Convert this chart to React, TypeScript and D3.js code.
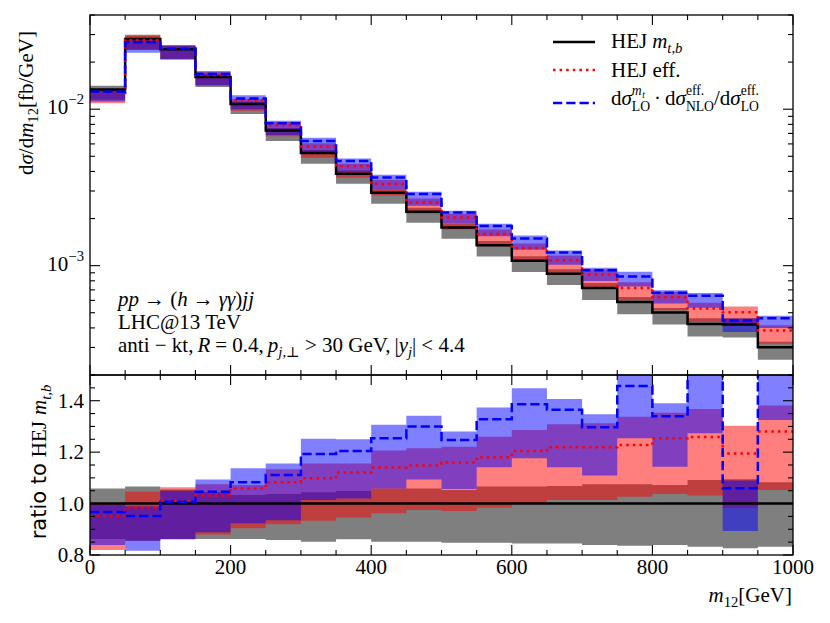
import React, { useEffect, useRef } from "react";
import * as d3 from "d3";

// bin edges in m12 [GeV]
const binEdges = [0, 50, 100, 150, 200, 250, 300, 350, 400, 450, 500, 550, 600, 650, 700, 750, 800, 850, 900, 950, 1000];

// HEJ m_{t,b} central value [fb/GeV]
const hejMtb = [0.01335, 0.0281, 0.0242, 0.01606, 0.01081, 0.00731, 0.00525, 0.00387, 0.00292, 0.00221,
  0.00175, 0.00135, 0.001076, 0.000889, 0.00072, 0.000586, 0.000501, 0.000423, 0.000421, 0.000301];

// ratios to HEJ m_{t,b}
const effRatio = [0.952, 0.985, 1.011, 1.031, 1.059, 1.083, 1.098, 1.121, 1.14, 1.148,
  1.16, 1.18, 1.204, 1.219, 1.219, 1.228, 1.254, 1.259, 1.195, 1.28];
const loRatio = [0.967, 0.952, 1.007, 1.046, 1.083, 1.111, 1.193, 1.204, 1.254, 1.3,
  1.247, 1.328, 1.386, 1.365, 1.297, 1.457, 1.34, 1.52, 1.06, 1.53];

// scale-variation bands (ratio to HEJ m_{t,b} central)
const mtbLo = [0.862, 0.855, 0.862, 0.862, 0.862, 0.858, 0.852, 0.861, 0.852, 0.852,
  0.848, 0.848, 0.845, 0.845, 0.839, 0.836, 0.839, 0.832, 0.826, 0.832];
const mtbHi = [1.059, 1.066, 1.055, 1.045, 1.033, 1.037, 1.044, 1.049, 1.059, 1.059,
  1.053, 1.066, 1.066, 1.068, 1.075, 1.075, 1.072, 1.092, 1.095, 1.083];
const effLo = [0.819, 0.855, 0.86, 0.88, 0.904, 0.92, 0.933, 0.946, 0.962, 0.975,
  0.971, 0.984, 0.997, 1.014, 1.014, 1.027, 1.037, 1.031, 0.984, 1.053];
const effHi = [0.998, 1.046, 1.063, 1.075, 1.072, 1.133, 1.156, 1.156, 1.206, 1.215,
  1.221, 1.26, 1.286, 1.308, 1.312, 1.338, 1.353, 1.368, 1.303, 1.381];
const loLo = [0.839, 0.817, 0.862, 0.888, 0.923, 0.935, 1.014, 1.02, 1.059, 1.094,
  1.057, 1.141, 1.176, 1.141, 1.109, 1.254, 1.143, 1.273, 0.893, 1.325];
const loHi = [0.996, 0.99, 1.05, 1.094, 1.137, 1.156, 1.252, 1.25, 1.307, 1.342,
  1.28, 1.374, 1.448, 1.407, 1.347, 1.56, 1.39, 1.58, 1.09, 1.59];

const xTickLabels = [0, 200, 400, 600, 800, 1000];
const ratioTickLabels = [0.8, 1.0, 1.2, 1.4];
const logTickLabels = [{ v: 1e-3, e: "−3" }, { v: 1e-2, e: "−2" }];

const SERIF = "'Liberation Serif', 'DejaVu Serif', serif";
const SANS = "'DejaVu Sans', sans-serif";
const FS = 21;

type Piece = { t?: string; gap?: number; it?: boolean; sans?: boolean; s?: number; dy?: number; mark?: boolean; back?: boolean };

// draws a row of text pieces (for sub/superscripts), measuring each one
function rich(parent: any, x: number, y: number, pieces: Piece[], anchor = "start", rotate = 0) {
  const g = parent.append("g");
  const inner = g.append("g");
  let cx = 0;
  let mark = 0;
  pieces.forEach((p) => {
    if (p.gap) {
      cx += p.gap;
      return;
    }
    if (p.mark) mark = cx;
    const prevEnd = cx;
    if (p.back) cx = mark;
    const t = inner
      .append("text")
      .attr("x", cx)
      .attr("y", p.dy ?? 0)
      .attr("font-size", (p.s ?? 1) * FS)
      .attr("font-family", p.sans ? SANS : SERIF)
      .attr("font-style", p.it ? "italic" : "normal")
      .attr("fill", "#000")
      .text(p.t);
    cx += (t.node() as SVGTextElement).getComputedTextLength();
    if (p.back) cx = Math.max(cx, prevEnd);
  });
  const shift = anchor === "middle" ? -cx / 2 : anchor === "end" ? -cx : 0;
  inner.attr("transform", `translate(${shift},0)`);
  g.attr("transform", `translate(${x},${y})` + (rotate ? ` rotate(${rotate})` : ""));
}

const App = () => {
  const svgRef = useRef<SVGSVGElement>(null);

  useEffect(() => {
    const svg = d3.select(svgRef.current);
    svg.selectAll("*").remove();

    const left = 90, right = 793;
    const topY0 = 15, topY1 = 375, ratY1 = 555;

    const x = d3.scaleLinear().domain([0, 1000]).range([left, right]);
    const yTop = d3.scaleLog().domain([2e-4, 4e-2]).range([topY1, topY0]);
    const yRat = d3.scaleLinear().domain([0.8, 1.5]).range([ratY1, topY1]);

    const defs = svg.append("defs");
    defs.append("clipPath").attr("id", "clipTop").append("rect")
      .attr("x", left).attr("y", topY0).attr("width", right - left).attr("height", topY1 - topY0);
    defs.append("clipPath").attr("id", "clipRat").append("rect")
      .attr("x", left).attr("y", topY1).attr("width", right - left).attr("height", ratY1 - topY1);

    // step points: one per bin edge, last edge repeats last bin
    const steps = (vals: number[]) => binEdges.map((e, i) => ({ x: e, v: vals[Math.min(i, vals.length - 1)] }));
    const pairs = (lo: number[], hi: number[]) =>
      binEdges.map((e, i) => ({ x: e, lo: lo[Math.min(i, lo.length - 1)], hi: hi[Math.min(i, hi.length - 1)] }));

    const mul = (r: number[]) => r.map((v, i) => v * hejMtb[i]);

    const bandStyles = [
      { lo: mtbLo, hi: mtbHi, fill: "#000000" },
      { lo: effLo, hi: effHi, fill: "#ff0000" },
      { lo: loLo, hi: loHi, fill: "#0000ff" },
    ];
    const lineStyles = [
      { r: hejMtb.map(() => 1), color: "#000000", dash: null },
      { r: effRatio, color: "#ff0000", dash: "2.5,4.1" },
      { r: loRatio, color: "#0000ff", dash: "9.25,4" },
    ];

    const drawPanel = (yScale: any, clip: string, absolute: boolean) => {
      const g = svg.append("g").attr("clip-path", `url(#${clip})`);
      const area = d3
        .area<any>()
        .x((d) => x(d.x))
        .y0((d) => yScale(d.lo))
        .y1((d) => yScale(d.hi))
        .curve(d3.curveStepAfter);
      bandStyles.forEach((b) => {
        const lo = absolute ? mul(b.lo) : b.lo;
        const hi = absolute ? mul(b.hi) : b.hi;
        g.append("path")
          .datum(pairs(lo, hi))
          .attr("fill", b.fill)
          .attr("fill-opacity", 0.5)
          .attr("d", area);
      });
      const line = d3
        .line<any>()
        .x((d) => x(d.x))
        .y((d) => yScale(d.v))
        .curve(d3.curveStepAfter);
      lineStyles.forEach((l) => {
        const vals = absolute ? mul(l.r) : l.r;
        g.append("path")
          .datum(steps(vals))
          .attr("fill", "none")
          .attr("stroke", l.color)
          .attr("stroke-width", 2.5)
          .attr("stroke-dasharray", l.dash)
          .attr("d", line);
      });
    };

    drawPanel(yTop, "clipTop", true);
    drawPanel(yRat, "clipRat", false);

    // frames
    [[topY0, topY1], [topY1, ratY1]].forEach(([a, b]) => {
      svg.append("rect")
        .attr("x", left).attr("y", a).attr("width", right - left).attr("height", b - a)
        .attr("fill", "none").attr("stroke", "#000").attr("stroke-width", 1.3);
    });

    const ticks = svg.append("g").attr("stroke", "#000").attr("stroke-width", 1.1);
    const MAJ = 10, MIN = 5;

    // x ticks on both panels, all horizontal edges
    d3.range(0, 1001, 50).forEach((v) => {
      const len = v % 200 === 0 ? MAJ : MIN;
      const xp = x(v);
      [[topY0, 1], [topY1, -1], [topY1, 1], [ratY1, -1]].forEach(([yy, dir]) => {
        ticks.append("line").attr("x1", xp).attr("x2", xp).attr("y1", yy).attr("y2", yy + dir * len);
      });
    });

    // log y ticks
    [1e-4, 1e-3, 1e-2].forEach((dec) => {
      d3.range(1, 10).forEach((k) => {
        const v = dec * k;
        if (v < 2e-4 || v > 4e-2) return;
        const len = k === 1 ? MAJ : MIN;
        const yp = yTop(v);
        ticks.append("line").attr("x1", left).attr("x2", left + len).attr("y1", yp).attr("y2", yp);
        ticks.append("line").attr("x1", right).attr("x2", right - len).attr("y1", yp).attr("y2", yp);
      });
    });

    // ratio y ticks
    d3.range(0, 15).forEach((i) => {
      const v = 0.8 + i * 0.05;
      const len = i % 4 === 0 ? MAJ : MIN;
      const yp = yRat(v);
      ticks.append("line").attr("x1", left).attr("x2", left + len).attr("y1", yp).attr("y2", yp);
      ticks.append("line").attr("x1", right).attr("x2", right - len).attr("y1", yp).attr("y2", yp);
    });

    // tick labels
    xTickLabels.forEach((v) => {
      svg.append("text")
        .attr("x", x(v)).attr("y", 574)
        .attr("text-anchor", "middle")
        .attr("font-family", SERIF).attr("font-size", FS)
        .text(v);
    });
    ratioTickLabels.forEach((v) => {
      svg.append("text")
        .attr("x", 84).attr("y", yRat(v) + 7)
        .attr("text-anchor", "end")
        .attr("font-family", SERIF).attr("font-size", FS)
        .text(v.toFixed(1));
    });
    logTickLabels.forEach((d) => {
      rich(svg, 84, yTop(d.v) + 5, [{ t: "10" }, { t: d.e, s: 0.7, dy: -10 }], "end");
    });

    // axis titles
    rich(svg, 33, 103, [
      { t: "d" }, { t: "σ", it: true }, { t: "/d" }, { t: "m", it: true },
      { t: "12", s: 0.7, dy: 5 }, { t: "[fb/GeV]" },
    ], "middle", -90);
    rich(svg, 46, 462, [
      { t: "ratio to", sans: true }, { gap: 6 }, { t: "HEJ" }, { gap: 6 },
      { t: "m", it: true }, { t: "t,b", it: true, s: 0.7, dy: 5 },
    ], "middle", -90);
    rich(svg, 792, 602, [
      { t: "m", it: true }, { t: "12", s: 0.7, dy: 5 }, { t: "[GeV]" },
    ], "end");

    // process annotation
    rich(svg, 118, 306, [
      { t: "pp", it: true }, { gap: 5 }, { t: "→ (" }, { t: "h", it: true }, { gap: 5 }, { t: "→" }, { gap: 5 },
      { t: "γγ", it: true }, { t: ")" }, { t: "jj", it: true },
    ]);
    rich(svg, 118, 329, [{ t: "LHC@13 TeV" }]);
    rich(svg, 118, 352, [
      { t: "anti − kt," }, { gap: 4 }, { t: "R", it: true }, { gap: 5 }, { t: "= 0.4," }, { gap: 4 }, { t: "p", it: true },
      { t: "j,⊥", it: true, s: 0.7, dy: 5 }, { gap: 5 }, { t: "> 30 GeV," }, { gap: 4 }, { t: "|" }, { t: "y", it: true },
      { t: "j", it: true, s: 0.7, dy: 5 }, { t: "|" }, { gap: 5 }, { t: "< 4.4" },
    ]);

    // legend
    const leg = svg.append("g");
    const legItems = [
      { y: 42, color: "#000", dash: null },
      { y: 70, color: "#ff0000", dash: "2.5,4.1" },
      { y: 103, color: "#0000ff", dash: "9.25,4" },
    ];
    legItems.forEach((l) => {
      leg.append("line")
        .attr("x1", 553).attr("x2", 595).attr("y1", l.y).attr("y2", l.y)
        .attr("stroke", l.color).attr("stroke-width", 2.5).attr("stroke-dasharray", l.dash);
    });
    rich(leg, 611, 48, [{ t: "HEJ" }, { gap: 5 }, { t: "m", it: true }, { t: "t,b", it: true, s: 0.7, dy: 5 }]);
    rich(leg, 611, 77, [{ t: "HEJ eff." }]);
    rich(leg, 611, 105, [
      { t: "d" }, { t: "σ", it: true },
      { t: "m", it: true, s: 0.65, dy: -10, mark: true }, { gap: 0.5 }, { t: "t", it: true, s: 0.45, dy: -7 },
      { t: "LO", s: 0.65, dy: 6, back: true },
      { gap: 4 }, { t: "·" }, { gap: 4 }, { t: "d" }, { t: "σ", it: true },
      { t: "eff.", s: 0.65, dy: -10, mark: true }, { t: "NLO", s: 0.65, dy: 6, back: true },
      { t: "/d" }, { t: "σ", it: true },
      { t: "eff.", s: 0.65, dy: -10, mark: true }, { t: "LO", s: 0.65, dy: 6, back: true },
    ]);
  }, []);

  return (
    <svg
      ref={svgRef}
      width={830}
      height={623}
      style={{ position: "absolute", left: 0, top: 0, background: "#fff" }}
    ></svg>
  );
};

export default App;
